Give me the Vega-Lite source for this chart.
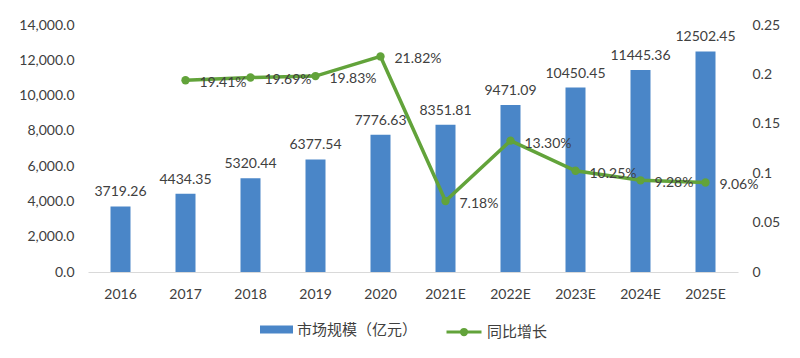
{
  "$schema": "https://vega.github.io/schema/vega-lite/v6.json",
  "width": 650,
  "height": 247,
  "autosize": {"type": "none"},
  "padding": {"left": 88, "top": 25, "right": 62, "bottom": 86},
  "background": "white",
  "config": {
    "view": {"stroke": null},
    "font": "Lato",
    "axis": {"labelFont": "Lato", "labelColor": "#404040", "labelFontSize": 14, "grid": false, "ticks": false, "domain": false, "title": null}
  },
  "data": {
    "values": [
      {"year": "2016", "size": 3719.26, "growth": null},
      {"year": "2017", "size": 4434.35, "growth": 0.1941},
      {"year": "2018", "size": 5320.44, "growth": 0.1969},
      {"year": "2019", "size": 6377.54, "growth": 0.1983},
      {"year": "2020", "size": 7776.63, "growth": 0.2182},
      {"year": "2021E", "size": 8351.81, "growth": 0.0718},
      {"year": "2022E", "size": 9471.09, "growth": 0.1330},
      {"year": "2023E", "size": 10450.45, "growth": 0.1025},
      {"year": "2024E", "size": 11445.36, "growth": 0.0928},
      {"year": "2025E", "size": 12502.45, "growth": 0.0906}
    ]
  },
  "encoding": {
    "x": {
      "field": "year", "type": "ordinal", "sort": null,
      "scale": {"paddingInner": 0, "paddingOuter": 0},
      "axis": {"labelAngle": 0, "domain": true, "domainColor": "#d9d9d9", "domainWidth": 1, "labelPadding": 15, "title": null}
    }
  },
  "layer": [
    {
      "encoding": {
        "y": {
          "field": "size", "type": "quantitative",
          "scale": {"domain": [0, 14000], "nice": false},
          "axis": {"orient": "left", "values": [0, 2000, 4000, 6000, 8000, 10000, 12000, 14000], "format": ",.1f", "labelPadding": 14, "title": null}
        }
      },
      "layer": [
        {
          "mark": {"type": "bar", "width": 20},
          "encoding": {
            "fill": {
              "datum": "市场规模（亿元）", "type": "nominal",
              "scale": {"range": ["#4A86C8"]},
              "legend": {
                "orient": "none", "legendX": 172, "legendY": 288, "title": null,
                "symbolType": "M-1,-0.24H1V0.24H-1Z", "symbolSize": 1089, "symbolStrokeWidth": 0,
                "labelFont": "Noto Sans CJK SC", "labelFontSize": 15, "labelColor": "#404040", "labelOffset": 4, "labelLimit": 300
              }
            }
          }
        },
        {
          "mark": {"type": "text", "baseline": "bottom", "dy": -7, "font": "Lato", "fontSize": 14, "color": "#404040"},
          "encoding": {"text": {"field": "size", "type": "quantitative", "format": ".2f"}}
        }
      ]
    },
    {
      "transform": [{"filter": "datum.growth != null"}],
      "encoding": {
        "y": {
          "field": "growth", "type": "quantitative",
          "scale": {"domain": [0, 0.25], "nice": false},
          "axis": {"orient": "right", "values": [0, 0.05, 0.1, 0.15, 0.2, 0.25], "format": "~g", "labelPadding": 14, "title": null}
        }
      },
      "layer": [
        {
          "mark": {"type": "line", "strokeWidth": 3.5},
          "encoding": {
            "stroke": {
              "datum": "同比增长", "type": "nominal",
              "scale": {"range": ["#62A33A"]},
              "legend": {
                "orient": "none", "legendX": 357, "legendY": 288, "title": null,
                "symbolType": "M-1,0H1M-0.15,0A0.15,0.15 0 1,0 0.15,0A0.15,0.15 0 1,0 -0.15,0Z",
                "symbolSize": 1225, "symbolStrokeWidth": 3, "symbolFillColor": "#62A33A",
                "labelFont": "Noto Sans CJK SC", "labelFontSize": 15, "labelColor": "#404040", "labelOffset": 4
              }
            }
          }
        },
        {
          "mark": {"type": "point", "filled": true, "size": 70, "color": "#62A33A", "opacity": 1}
        },
        {
          "mark": {"type": "text", "align": "left", "baseline": "middle", "dx": 14, "dy": 3, "font": "Lato", "fontSize": 14, "color": "#404040"},
          "encoding": {"text": {"field": "growth", "type": "quantitative", "format": ".2%"}}
        }
      ]
    }
  ],
  "resolve": {"scale": {"y": "independent", "fill": "independent", "stroke": "independent"}}
}
